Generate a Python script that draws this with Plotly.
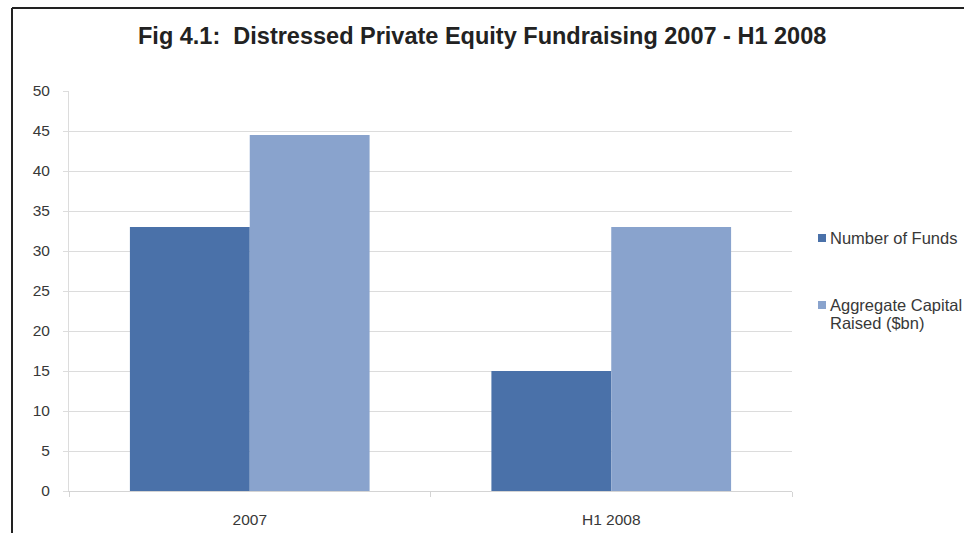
import plotly.graph_objects as go

# Chart data
periods = ["2007", "H1 2008"]
number_of_funds = [33, 15]
aggregate_capital_bn = [44.5, 33]
series_names = ["Number of Funds", "Aggregate Capital Raised ($bn)"]
legend_lines = [["Number of Funds"], ["Aggregate Capital", "Raised ($bn)"]]
series_colors = ["#4A71A9", "#89A3CD"]
y_ticks = [0, 5, 10, 15, 20, 25, 30, 35, 40, 45, 50]

W, H = 964, 533
L, R, T, B = 69, 172, 91, 42
plot_w = W - L - R
plot_h = H - T - B

def px_x(x):
    return (x - L) / plot_w

def px_y(y):
    return (H - B - y) / plot_h

fig = go.Figure()
for name, vals, col in zip(series_names, [number_of_funds, aggregate_capital_bn], series_colors):
    fig.add_trace(go.Bar(x=periods, y=vals, name=name, marker_color=col,
                         marker_line_width=0, showlegend=False))

font_main = "Liberation Sans, Arial, sans-serif"
txt_col = "#383838"

fig.update_layout(
    width=W, height=H,
    margin=dict(l=L, r=R, t=T, b=B),
    paper_bgcolor="white", plot_bgcolor="white",
    barmode="group", bargap=0.337, bargroupgap=0,
    font=dict(family=font_main, size=15, color=txt_col),
    xaxis=dict(
        automargin=False,
        showgrid=False, showline=True, linecolor="#d4d4d4", linewidth=1,
        ticks="outside", tickson="boundaries", ticklen=5, tickcolor="#d4d4d4",
        ticklabelstandoff=14, tickfont=dict(size=15.5, color=txt_col),
    ),
    yaxis=dict(
        automargin=False,
        range=[0, 50], tickvals=y_ticks, showgrid=True, gridcolor="#dcdcdc",
        gridwidth=1, showline=True, linecolor="#dcdcdc", linewidth=1,
        ticks="outside", ticklen=5, tickcolor="#dcdcdc", zeroline=False,
        ticklabelstandoff=10, tickfont=dict(size=15.5, color=txt_col),
    ),
)

# Title
fig.add_annotation(
    text="<b>Fig 4.1:  Distressed Private Equity Fundraising 2007 - H1 2008</b>",
    xref="paper", yref="paper", x=px_x(482), y=px_y(36),
    xanchor="center", yanchor="middle", showarrow=False,
    font=dict(family="Liberation Sans, Arial, sans-serif", size=23.5, color="#222222"),
)

# Frame lines (top and left)
fig.add_shape(type="line", xref="paper", yref="paper",
              x0=px_x(12), x1=px_x(975), y0=px_y(8), y1=px_y(8),
              line=dict(color="#222222", width=2))
fig.add_shape(type="line", xref="paper", yref="paper",
              x0=px_x(12), x1=px_x(12), y0=px_y(8), y1=px_y(545),
              line=dict(color="#222222", width=2))

# Legend: colored squares with labels
legend_rows = [238, 305]
for lines, col, yc in zip(legend_lines, series_colors, legend_rows):
    fig.add_shape(type="rect", xref="paper", yref="paper",
                  x0=px_x(818), x1=px_x(826), y0=px_y(yc - 4), y1=px_y(yc + 4),
                  fillcolor=col, line_width=0)
    for i, line in enumerate(lines):
        fig.add_annotation(text=line, xref="paper", yref="paper",
                           x=px_x(828), y=px_y(yc + i * 18), xanchor="left",
                           yanchor="middle", align="left", showarrow=False,
                           font=dict(family=font_main, size=16.5, color=txt_col))

fig.write_html("out.html")
